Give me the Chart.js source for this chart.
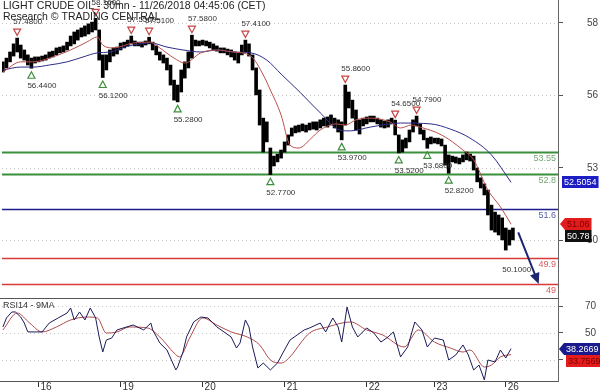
<!DOCTYPE html>
<html>
<head>
<meta charset="utf-8">
<script src="https://cdn.jsdelivr.net/npm/chart.js@4.4.1/dist/chart.umd.min.js"></script>
<style>
  html, body { margin: 0; padding: 0; background: #fff; }
  #wrap { position: relative; width: 600px; height: 392px; overflow: hidden; }
  #price { position: absolute; left: 0; top: 0; }
  #rsi { position: absolute; left: 0; top: 299px; }
</style>
</head>
<body>
<div id="wrap">
  <canvas id="price" width="600" height="299"></canvas>
  <canvas id="rsi" width="600" height="93"></canvas>
</div>
<script>
// 30mn bars, one sample every 2 bars (x = bar number)
const SLOT = 2;
const priceHigh = [
  56.66, 56.79, 57.00, 57.28, 57.48, 57.24, 57.07, 56.90, 56.79, 56.83,
  56.83, 56.86, 56.90, 57.00, 57.03, 57.14, 57.17, 57.21, 57.34, 57.55,
  57.69, 57.76, 57.83, 57.90, 57.97, 58.03, 58.16, 57.76, 56.90, 56.90,
  57.07, 57.14, 57.17, 57.31, 57.34, 57.41, 57.55, 57.38, 57.34, 57.34,
  57.38, 57.51, 57.34, 57.21, 57.00, 56.90, 56.79, 56.55, 56.03, 55.86,
  56.38, 56.66, 57.00, 57.58, 57.41, 57.38, 57.41, 57.38, 57.34, 57.28,
  57.21, 57.14, 57.14, 57.10, 57.07, 57.00, 56.97, 57.24, 57.41, 57.28,
  56.90, 56.45, 55.69, 54.72, 54.59, 53.69, 53.41, 53.48, 53.62, 53.90,
  54.14, 54.38, 54.45, 54.48, 54.52, 54.48, 54.55, 54.59, 54.59, 54.66,
  54.72, 54.76, 54.83, 54.72, 54.66, 54.59, 55.86, 55.62, 55.34, 55.00,
  54.66, 54.72, 54.76, 54.79, 54.79, 54.72, 54.66, 54.62, 54.66, 54.72,
  54.65, 54.14, 53.97, 54.03, 54.31, 54.66, 54.79, 54.52, 54.31, 54.03,
  54.07, 54.03, 54.03, 54.00, 53.79, 53.45, 53.41, 53.38, 53.34, 53.45,
  53.55, 53.48, 53.41, 53.00, 52.66, 52.45, 52.24, 51.72, 51.48, 51.38,
  51.28, 50.93, 50.86, 50.93
];
const priceLow = [
  56.31, 56.45, 56.66, 56.86, 57.00, 56.79, 56.72, 56.55, 56.44, 56.62,
  56.66, 56.69, 56.72, 56.79, 56.83, 56.90, 56.97, 57.00, 57.07, 57.21,
  57.28, 57.41, 57.52, 57.55, 57.62, 57.69, 57.76, 56.72, 56.12, 56.38,
  56.66, 56.86, 56.93, 57.07, 57.14, 57.21, 57.28, 57.21, 57.21, 57.17,
  57.24, 57.28, 57.07, 56.90, 56.72, 56.62, 56.38, 55.86, 55.34, 55.28,
  55.62, 56.10, 56.45, 56.79, 57.21, 57.21, 57.24, 57.21, 57.14, 57.07,
  57.03, 56.97, 56.97, 56.90, 56.83, 56.72, 56.62, 56.90, 57.00, 56.86,
  56.38, 55.52, 54.48, 53.55, 53.90, 52.77, 53.07, 53.21, 53.34, 53.55,
  53.79, 54.10, 54.21, 54.24, 54.28, 54.24, 54.31, 54.34, 54.31, 54.38,
  54.45, 54.41, 54.48, 54.38, 54.24, 53.97, 54.48, 55.07, 54.72, 54.31,
  54.17, 54.45, 54.52, 54.59, 54.59, 54.52, 54.41, 54.38, 54.41, 54.52,
  54.14, 53.52, 53.55, 53.69, 53.90, 54.24, 54.45, 54.17, 53.97, 53.68,
  53.83, 53.86, 53.83, 53.76, 53.10, 52.82, 53.21, 53.17, 53.14, 53.21,
  53.28, 53.24, 52.93, 52.52, 52.31, 52.07, 51.38, 50.86, 50.79, 50.69,
  50.52, 50.17, 50.34, 50.52
];
const lastClose = 50.78;

const maFastIdx = [0, 10, 17, 26, 38, 47, 53, 56, 62, 73, 83, 88, 96, 102, 111, 120, 129, 139, 146, 150,
  156, 161, 166, 173, 178, 187, 192, 198, 206, 217, 223, 229, 234, 246, 258, 264, 272, 279, 285];
const maFastVal = [56.31, 56.66, 56.66, 56.79, 57.07, 57.34, 57.52, 57.24, 57.14, 57.31, 57.34, 57.14, 56.79, 56.62, 56.97, 57.07, 57.00, 56.86, 56.21, 55.69,
  54.83, 53.79, 53.69, 54.03, 54.31, 54.52, 54.48, 54.66, 54.72, 54.59, 54.38, 54.48, 54.41, 54.14, 53.62, 53.28, 52.24, 51.66, 51.06];

const maSlowIdx = [0, 10, 17, 26, 36, 45, 53, 60, 67, 73, 83, 92, 101, 111, 120, 129, 139, 148, 156, 167,
  178, 189, 195, 206, 223, 240, 251, 262, 274, 285];
const maSlowVal = [56.38, 56.48, 56.48, 56.55, 56.66, 56.83, 56.97, 57.00, 57.14, 57.24, 57.31, 57.17, 57.07, 57.00, 57.07, 57.00, 56.97, 56.72, 56.24, 55.59,
  54.90, 54.31, 54.28, 54.41, 54.55, 54.52, 54.34, 54.03, 53.45, 52.5054];

// swing highs / lows
const markerIdx = [8, 16, 52, 56, 72, 82, 98, 106, 136, 150, 190, 192, 220, 222, 232, 238, 250];
const markerPrice = [57.48, 56.44, 58.16, 56.12, 57.55, 57.51, 55.28, 57.58, 57.41, 52.77, 53.97, 55.86, 54.65, 53.52, 54.79, 53.68, 52.82];
const markerSide = ['H', 'L', 'H', 'L', 'H', 'H', 'L', 'H', 'H', 'L', 'L', 'H', 'H', 'L', 'H', 'L', 'L'];

// key levels
const levelValues = [53.55, 52.8, 51.6, 49.9, 49];
const levelLabels = ['53.55', '52.8', '51.6', '49.9', '49'];
const levelKind = ['res', 'res', 'pivot', 'sup', 'sup'];

// expected move
const targetFrom = {x: 289, y: 50.78};
const targetTo = {x: 300.5, y: 49.0};
const targetLabel = {x: 280, y: 49.48, text: '50.1000'};

// RSI14 and its 9MA
const rsiIdx = [0, 2, 5, 7, 10, 12, 14, 19, 22, 26, 31, 36, 38, 40, 43, 46, 49, 52, 54, 56,
  58, 61, 64, 73, 79, 83, 84, 88, 92, 95, 97, 98, 101, 103, 107, 111, 115, 120, 124, 128,
  131, 133, 136, 138, 140, 143, 146, 150, 154, 157, 161, 165, 169, 172, 178, 181, 185, 188, 190, 193,
  196, 199, 204, 208, 212, 216, 219, 223, 227, 231, 235, 238, 242, 247, 250, 254, 258, 261, 264, 267,
  270, 272, 276, 279, 282, 285];
const rsiVal = [54.5, 61.3, 65.8, 65.8, 62.0, 57.5, 50.8, 50.8, 50.8, 57.5, 61.3, 65.0, 68.8, 59.8, 65.8, 59.8, 68.8, 61.3, 47.0, 35.7,
  44.7, 46.2, 52.3, 56.0, 52.3, 57.5, 52.3, 42.5, 37.2, 28.2, 22.2, 24.4, 35.7, 47.0, 58.3, 62.0, 61.3, 54.5, 50.8, 47.0,
  38.7, 42.5, 59.8, 54.5, 39.5, 23.7, 27.4, 22.2, 27.4, 35.0, 44.7, 48.5, 52.3, 53.8, 57.5, 50.8, 61.3, 54.5, 43.2, 69.5,
  54.5, 47.0, 53.8, 50.0, 43.2, 47.0, 50.8, 32.0, 39.5, 58.3, 52.3, 39.5, 46.2, 44.7, 29.7, 33.5, 41.0, 33.5, 22.2, 25.9,
  14.7, 29.7, 28.2, 37.2, 31.2, 38.2669];
const rsiMaIdx = [0, 8, 15, 22, 30, 38, 47, 53, 58, 64, 71, 81, 88, 96, 99, 105, 112, 120, 128, 137,
  144, 150, 156, 161, 167, 172, 182, 195, 204, 213, 225, 233, 242, 251, 258, 262, 270, 274, 279, 285];
const rsiMaVal = [52.3, 65.0, 57.5, 50.8, 54.5, 59.8, 62.0, 61.3, 50.0, 50.8, 54.5, 53.8, 47.0, 35.0, 32.0, 47.0, 61.3, 56.0, 50.8, 47.0,
  41.0, 29.7, 27.4, 32.0, 42.5, 50.0, 54.5, 58.3, 52.3, 48.5, 39.5, 52.3, 43.2, 38.7, 35.7, 37.2, 24.4, 25.9, 32.0, 33.7569];

// axes
const dayIdx = [20, 66, 112, 158, 204, 242, 282];
const dayLabels = ['16', '19', '20', '21', '22', '23', '26'];
const priceTicks = [50.5, 53, 55.5, 58];
const priceTickLabels = ['50', '53', '56', '58'];
const rsiTicks = [30, 50, 70];

const FONT = "'Liberation Sans', Arial, sans-serif";
const LEVEL_STYLE = {
  res: {line: '#3a8f3a', text: '#74a874', width: 2},
  pivot: {line: '#1c1c90', text: '#5561a8', width: 1.5},
  sup: {line: '#d83a3a', text: '#d85a5a', width: 1.5}
};
const X_MIN = -0.5, X_MAX = 311.3;

Chart.defaults.font.family = FONT;
Chart.defaults.font.size = 9;
Chart.defaults.color = '#333';

const pts = (xs, ys) => xs.map((x, i) => ({x, y: ys[i]}));

function fixY(scale) {
  scale.width = 42;
  scale.paddingTop = 0;
  scale.paddingBottom = 0;
}

function dottedRows(ctx, area, scale, values) {
  ctx.save();
  ctx.strokeStyle = '#c4c4c4';
  ctx.lineWidth = 1;
  ctx.setLineDash([1, 3]);
  values.forEach(v => {
    const py = Math.round(scale.getPixelForValue(v)) + 0.5;
    ctx.beginPath(); ctx.moveTo(area.left, py); ctx.lineTo(area.right, py); ctx.stroke();
  });
  ctx.restore();
}

function bottomRule(ctx, area) {
  ctx.save();
  ctx.strokeStyle = '#555';
  ctx.lineWidth = 1;
  const py = area.bottom + 0.5;
  ctx.beginPath(); ctx.moveTo(0, py); ctx.lineTo(area.right, py); ctx.stroke();
  ctx.restore();
}

// labels boxes on the right axis, pushed down when they overlap
function valueBoxes(ctx, scale, items) {
  const placed = items.map(it => Object.assign({py: scale.getPixelForValue(it.v)}, it))
    .sort((a, b) => a.py - b.py);
  for (let i = 1; i < placed.length; i++) {
    if (placed[i].py - placed[i - 1].py < 12) placed[i].py = placed[i - 1].py + 12;
  }
  ctx.save();
  ctx.font = '9px ' + FONT;
  ctx.textBaseline = 'middle';
  ctx.textAlign = 'left';
  placed.forEach(it => {
    const w = ctx.measureText(it.text).width + 4;
    const left = it.left, top = Math.round(it.py - 6);
    ctx.fillStyle = it.bg;
    ctx.fillRect(left, top, w, 12);
    if (it.pointer) {
      ctx.beginPath();
      ctx.moveTo(left, top); ctx.lineTo(left - 5, top + 6); ctx.lineTo(left, top + 12);
      ctx.closePath(); ctx.fill();
    }
    ctx.fillStyle = it.fg;
    ctx.fillText(it.text, left + 2, top + 6.5);
  });
  ctx.restore();
}

const priceDeco = {
  id: 'priceDeco',
  beforeDatasetsDraw(chart) {
    const {ctx, chartArea: a, scales: {y}} = chart;
    dottedRows(ctx, a, y, priceTicks);
    ctx.save();
    ctx.font = '9px ' + FONT;
    ctx.textAlign = 'right';
    ctx.textBaseline = 'middle';
    levelValues.forEach((v, i) => {
      const st = LEVEL_STYLE[levelKind[i]];
      const py = Math.round(y.getPixelForValue(v)) + 0.5;
      ctx.strokeStyle = st.line;
      ctx.lineWidth = st.width;
      ctx.beginPath(); ctx.moveTo(a.left, py); ctx.lineTo(a.right, py); ctx.stroke();
      ctx.fillStyle = st.text;
      ctx.fillText(levelLabels[i], a.right - 2, py + 6);
    });
    ctx.restore();
  },
  afterDatasetsDraw(chart) {
    const {ctx, chartArea: a, scales: {x, y}} = chart;
    ctx.save();
    // swing markers
    ctx.lineWidth = 1.2;
    ctx.font = '8px ' + FONT;
    ctx.textAlign = 'left';
    ctx.textBaseline = 'middle';
    markerIdx.forEach((m, i) => {
      const px = x.getPixelForValue(m);
      const py = y.getPixelForValue(markerPrice[i]);
      ctx.beginPath();
      if (markerSide[i] === 'H') {
        const cy = py - 6;
        ctx.strokeStyle = '#c84545';
        ctx.moveTo(px - 3.5, cy - 3); ctx.lineTo(px + 3.5, cy - 3); ctx.lineTo(px, cy + 3.5);
        ctx.closePath(); ctx.stroke();
        ctx.fillStyle = '#333';
        ctx.fillText(markerPrice[i].toFixed(4), px - 4, py - 16);
      } else {
        const cy = py + 7;
        ctx.strokeStyle = '#3f8f3f';
        ctx.moveTo(px - 3.5, cy + 3); ctx.lineTo(px + 3.5, cy + 3); ctx.lineTo(px, cy - 3.5);
        ctx.closePath(); ctx.stroke();
        ctx.fillStyle = '#333';
        ctx.fillText(markerPrice[i].toFixed(4), px - 4, py + 18);
      }
    });
    // target arrow
    const x0 = x.getPixelForValue(targetFrom.x), y0 = y.getPixelForValue(targetFrom.y);
    const x1 = x.getPixelForValue(targetTo.x), y1 = y.getPixelForValue(targetTo.y);
    const ang = Math.atan2(y1 - y0, x1 - x0);
    ctx.strokeStyle = '#1d2670';
    ctx.fillStyle = '#1d2670';
    ctx.lineWidth = 2;
    ctx.beginPath(); ctx.moveTo(x0, y0);
    ctx.lineTo(x1 - 8 * Math.cos(ang), y1 - 8 * Math.sin(ang)); ctx.stroke();
    ctx.beginPath();
    ctx.moveTo(x1, y1);
    ctx.lineTo(x1 - 11 * Math.cos(ang) + 5 * Math.sin(ang), y1 - 11 * Math.sin(ang) - 5 * Math.cos(ang));
    ctx.lineTo(x1 - 11 * Math.cos(ang) - 5 * Math.sin(ang), y1 - 11 * Math.sin(ang) + 5 * Math.cos(ang));
    ctx.closePath(); ctx.fill();
    ctx.fillStyle = '#333';
    ctx.font = '8px ' + FONT;
    ctx.fillText(targetLabel.text, x.getPixelForValue(targetLabel.x), y.getPixelForValue(targetLabel.y));
    // header
    ctx.fillStyle = '#222';
    ctx.font = '10.5px ' + FONT;
    ctx.fillText('LIGHT CRUDE OIL - 30mn - 11/26/2018 04:45:06 (CET)', 3, 6);
    ctx.fillText('Research \u00a9 TRADING CENTRAL', 3, 17);
    ctx.restore();
    bottomRule(ctx, a);
  },
  afterDraw(chart) {
    const y = chart.scales.y;
    valueBoxes(chart.ctx, y, [
      {v: maSlowVal[maSlowVal.length - 1], text: maSlowVal[maSlowVal.length - 1].toFixed(4), bg: '#1d1dc4', fg: '#fff', left: 562},
      {v: maFastVal[maFastVal.length - 1], text: maFastVal[maFastVal.length - 1].toFixed(2), bg: '#e41b1b', fg: '#7a0000', left: 565, pointer: true},
      {v: lastClose, text: lastClose.toFixed(2), bg: '#111', fg: '#fff', left: 565}
    ]);
  }
};

const rsiDeco = {
  id: 'rsiDeco',
  beforeDatasetsDraw(chart) {
    dottedRows(chart.ctx, chart.chartArea, chart.scales.y, rsiTicks);
  },
  afterDatasetsDraw(chart) {
    const {ctx, chartArea: a} = chart;
    ctx.save();
    ctx.fillStyle = '#333';
    ctx.font = '9px ' + FONT;
    ctx.textBaseline = 'middle';
    ctx.fillText('RSI14 - 9MA', 3, a.top + 7);
    ctx.restore();
    bottomRule(ctx, a);
  },
  afterDraw(chart) {
    valueBoxes(chart.ctx, chart.scales.y, [
      {v: rsiVal[rsiVal.length - 1], text: rsiVal[rsiVal.length - 1].toFixed(4), bg: '#1a1a8c', fg: '#fff', left: 564, pointer: true},
      {v: rsiMaVal[rsiMaVal.length - 1], text: rsiMaVal[rsiMaVal.length - 1].toFixed(4), bg: '#e41b1b', fg: '#7a0000', left: 566}
    ]);
  }
};

new Chart(document.getElementById('price'), {
  type: 'bar',
  data: {
    datasets: [
      {
        type: 'line', label: 'MA fast', data: pts(maFastIdx, maFastVal),
        borderColor: '#b9504c', borderWidth: 1, pointRadius: 0, cubicInterpolationMode: 'monotone', order: 0
      },
      {
        type: 'line', label: 'MA slow', data: pts(maSlowIdx, maSlowVal),
        borderColor: '#2c2c86', borderWidth: 1, pointRadius: 0, cubicInterpolationMode: 'monotone', order: 0
      },
      {
        label: 'Price', data: priceHigh.map((h, k) => ({x: k * SLOT, y: [priceLow[k], h]})),
        backgroundColor: '#000', borderWidth: 0, barThickness: 3, order: 1
      }
    ]
  },
  options: {
    responsive: false,
    animation: false,
    layout: {padding: {left: 2, right: 0, top: 0, bottom: 1}},
    plugins: {legend: {display: false}, tooltip: {enabled: false}},
    scales: {
      x: {type: 'linear', min: X_MIN, max: X_MAX, offset: false, display: false},
      y: {
        position: 'right', min: 48.517, max: 58.793,
        afterBuildTicks: s => { s.ticks = priceTicks.map(v => ({value: v})); },
        afterFit: fixY,
        ticks: {padding: 24, callback: (v, i) => priceTickLabels[i], color: '#444', font: {size: 10}},
        grid: {drawOnChartArea: false, tickLength: 5, tickColor: '#555'},
        border: {display: true, color: '#666'}
      }
    }
  },
  plugins: [priceDeco]
});

new Chart(document.getElementById('rsi'), {
  type: 'line',
  data: {
    datasets: [
      {label: 'RSI14', data: pts(rsiIdx, rsiVal), borderColor: '#1b1b5a', borderWidth: 1, pointRadius: 0, order: 0},
      {label: '9MA', data: pts(rsiMaIdx, rsiMaVal), borderColor: '#b04a4a', borderWidth: 1, pointRadius: 0, cubicInterpolationMode: 'monotone', order: 1}
    ]
  },
  options: {
    responsive: false,
    animation: false,
    layout: {padding: {left: 2, right: 0, top: 0, bottom: 0}},
    plugins: {legend: {display: false}, tooltip: {enabled: false}},
    scales: {
      x: {
        type: 'linear', min: X_MIN, max: X_MAX, offset: false,
        afterBuildTicks: s => { s.ticks = dayIdx.map(v => ({value: v})); },
        afterFit: s => { s.height = 11; s.paddingLeft = 0; s.paddingRight = 0; },
        ticks: {align: 'start', padding: -6, labelOffset: 2, autoSkip: false, maxRotation: 0,
          callback: (v, i) => dayLabels[i], color: '#333', font: {size: 10}},
        grid: {drawOnChartArea: false, tickLength: 6, tickColor: '#333'},
        border: {display: false}
      },
      y: {
        position: 'right', min: 13.9, max: 75.56,
        afterBuildTicks: s => { s.ticks = rsiTicks.map(v => ({value: v})); },
        afterFit: fixY,
        ticks: {padding: 22, color: '#444', font: {size: 10}},
        grid: {drawOnChartArea: false, tickLength: 5, tickColor: '#555'},
        border: {display: true, color: '#666'}
      }
    }
  },
  plugins: [rsiDeco]
});
</script>
</body>
</html>
